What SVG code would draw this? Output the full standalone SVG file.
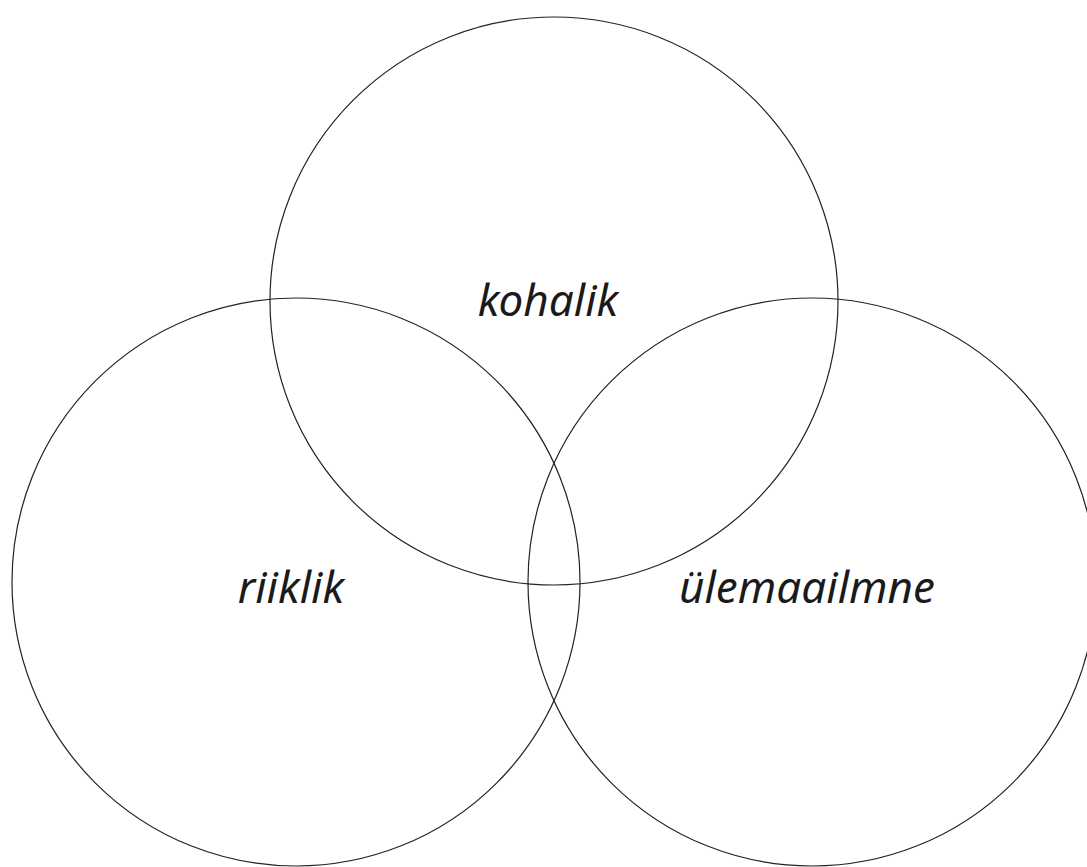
<svg xmlns="http://www.w3.org/2000/svg" width="1087" height="867" viewBox="0 0 1087 867">
<style>
.c{fill:none;stroke:#222;stroke-width:1.2}
.t{font-family:"Noto Sans","Open Sans",sans-serif;font-style:italic;font-size:44px;fill:#1a1a1a;text-anchor:middle}
</style>
<rect width="1087" height="867" fill="#fff"/>
<g id="kohalik"><circle class="c" cx="554" cy="301" r="284"/><text class="t" x="548" y="316">kohalik</text></g>
<g id="riiklik"><circle class="c" cx="296" cy="582" r="284"/><text class="t" x="291" y="603">riiklik</text></g>
<g id="ulemaailmne"><circle class="c" cx="812" cy="582" r="284"/><text class="t" x="807" y="603">ülemaailmne</text></g>
<g id="connectors"/>
</svg>
